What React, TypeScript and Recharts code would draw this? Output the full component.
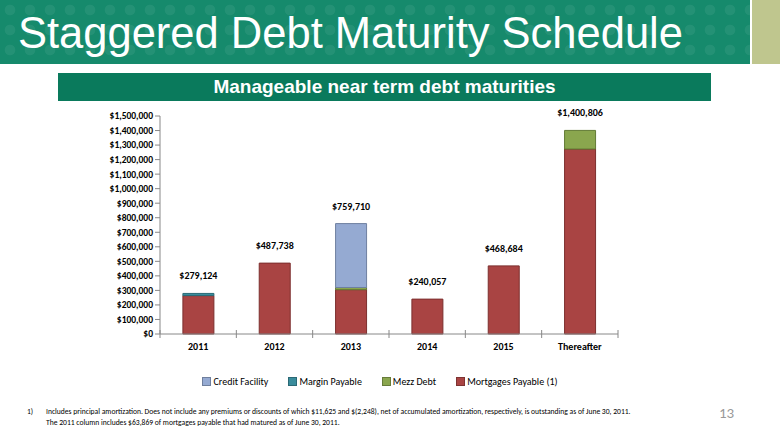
import { BarChart, Bar, XAxis, YAxis, Legend, LabelList } from 'recharts';

const categories = ['2011', '2012', '2013', '2014', '2015', 'Thereafter'];
const creditFacility = [0, 0, 439710, 0, 0, 0];
const marginPayable = [15000, 0, 0, 0, 0, 0];
const mezzDebt = [0, 0, 15000, 0, 0, 128000];
const mortgagesPayable = [264124, 487738, 305000, 240057, 468684, 1272806];
const totals = [279124, 487738, 759710, 240057, 468684, 1400806];
const yTicks = [0, 100000, 200000, 300000, 400000, 500000, 600000, 700000, 800000, 900000, 1000000, 1100000, 1200000, 1300000, 1400000, 1500000];

const data = categories.map((name, i) => ({
  name,
  credit: creditFacility[i],
  margin: marginPayable[i],
  mezz: mezzDebt[i],
  mortgages: mortgagesPayable[i],
  total: totals[i],
}));

const legendItems = [
  { label: 'Credit Facility', color: '#95AAD2' },
  { label: 'Margin Payable', color: '#3A8C9C' },
  { label: 'Mezz Debt', color: '#8AA64E' },
  { label: 'Mortgages Payable (1)', color: '#A94443' },
];

const chartFont = 'Carlito, Lato, "Open Sans", sans-serif';
const band = 458 / 6;

const fmt = (v: number) => '$' + v.toLocaleString('en-US');

const XTick = (props: any) => {
  const { x, y, payload, index } = props;
  return (
    <g>
      <line x1={x - band / 2} x2={x - band / 2} y1={y - 12} y2={y - 4} stroke="#888" />
      {index === categories.length - 1 && (
        <line x1={x + band / 2} x2={x + band / 2} y1={y - 12} y2={y - 4} stroke="#888" />
      )}
      <text x={x} y={y + 8} textAnchor="middle" fontSize={10} fontWeight={700} fill="#000" fontFamily={chartFont}>
        {payload.value}
      </text>
    </g>
  );
};

// label sits on the mortgages bar; move it up to the top of the whole stack
const TotalLabel = (props: any) => {
  const { x, y, width, height, value, index } = props;
  const i = categories.indexOf(data[index]?.name);
  const base = mortgagesPayable[i >= 0 ? i : index];
  const topY = y - ((value - base) * height) / base;
  return (
    <text x={x + width / 2} y={topY - 14} textAnchor="middle" fontSize={10} fontWeight={700} fill="#000" fontFamily={chartFont}>
      {fmt(value)}
    </text>
  );
};

const LegendContent = () => (
  <div style={{ display: 'flex', justifyContent: 'center', gap: 20, fontFamily: chartFont, fontSize: 10, color: '#000', paddingRight: 20 }}>
    {legendItems.map((it) => (
      <div key={it.label} style={{ display: 'flex', alignItems: 'center' }}>
        <span style={{ width: 7, height: 7, background: it.color, border: '1px solid rgba(0,0,0,0.25)', marginRight: 2, display: 'inline-block' }} />
        {it.label}
      </div>
    ))}
  </div>
);

export default function App() {
  return (
    <div style={{ position: 'absolute', left: 0, top: 0, width: 780, height: 439, background: '#fff', overflow: 'hidden', fontFamily: '"Liberation Sans", Arial, sans-serif' }}>
      {/* header banner */}
      <div style={{
        position: 'absolute', left: 0, top: 0, width: 750, height: 64, background: '#168A6C',
        backgroundImage: 'radial-gradient(circle, rgba(255,255,255,0.06) 35%, transparent 40%)',
        backgroundSize: '20px 20px',
      }} />
      <div style={{ position: 'absolute', left: 752, top: 0, width: 28, height: 64, background: '#BFC68E' }} />
      <div style={{ position: 'absolute', left: 18, top: 7, fontSize: 43.5, color: '#fff', whiteSpace: 'nowrap', lineHeight: '52px' }}>
        Staggered Debt Maturity Schedule
      </div>
      {/* subtitle */}
      <div style={{
        position: 'absolute', left: 58, top: 73, width: 653, height: 28, background: '#0A7A5C',
        color: '#fff', fontFamily: '"Liberation Sans Narrow", "Arial Narrow", "Liberation Sans", sans-serif', fontWeight: 700, fontSize: 19,
        textAlign: 'center', lineHeight: '28px',
      }}>
        Manageable near term debt maturities
      </div>

      <div style={{ position: 'absolute', left: 0, top: 0 }}>
        <BarChart width={780} height={439} data={data} barCategoryGap="30%" margin={{ top: 116, right: 162, left: 100, bottom: 75 }}>
          <XAxis dataKey="name" axisLine={{ stroke: '#888' }} tickLine={false} tick={<XTick />} height={30} interval={0} />
          <YAxis
            domain={[0, 1500000]}
            ticks={yTicks}
            interval={0}
            width={60}
            tickFormatter={fmt}
            axisLine={{ stroke: '#888' }}
            tickLine={{ stroke: '#888' }}
            tickSize={5}
            tick={{ fontSize: 9.5, fontWeight: 700, fill: '#000', fontFamily: chartFont }}
          />
          <Legend verticalAlign="middle" content={<LegendContent />} wrapperStyle={{ top: 375, left: 0, width: 780 }} />
          <Bar dataKey="mortgages" name="Mortgages Payable (1)" stackId="a" fill="#A94443" stroke="#7C2F2E" strokeWidth={1} isAnimationActive={false}>
            <LabelList dataKey="total" content={<TotalLabel />} />
          </Bar>
          <Bar dataKey="mezz" name="Mezz Debt" stackId="a" fill="#8AA64E" stroke="#627A35" strokeWidth={1} isAnimationActive={false} />
          <Bar dataKey="margin" name="Margin Payable" stackId="a" fill="#3A8C9C" stroke="#2A6A76" strokeWidth={1} isAnimationActive={false} />
          <Bar dataKey="credit" name="Credit Facility" stackId="a" fill="#95AAD2" stroke="#6F80A0" strokeWidth={1} isAnimationActive={false} />
        </BarChart>
      </div>

      {/* footnote */}
      <div style={{ position: 'absolute', left: 27, top: 406, fontFamily: chartFont, fontSize: 7.6, color: '#000', lineHeight: '11px' }}>1)</div>
      <div style={{ position: 'absolute', left: 46, top: 406, fontFamily: chartFont, fontSize: 7.6, color: '#000', lineHeight: '11px', whiteSpace: 'nowrap' }}>
        Includes principal amortization. Does not include any premiums or discounts of which $11,625 and $(2,248), net of accumulated amortization, respectively, is outstanding as of June 30, 2011.
        <br />
        The 2011 column includes $63,869 of mortgages payable that had matured as of June 30, 2011.
      </div>
      <div style={{ position: 'absolute', left: 719, top: 404, fontFamily: chartFont, fontSize: 15, color: '#999' }}>13</div>
    </div>
  );
}
